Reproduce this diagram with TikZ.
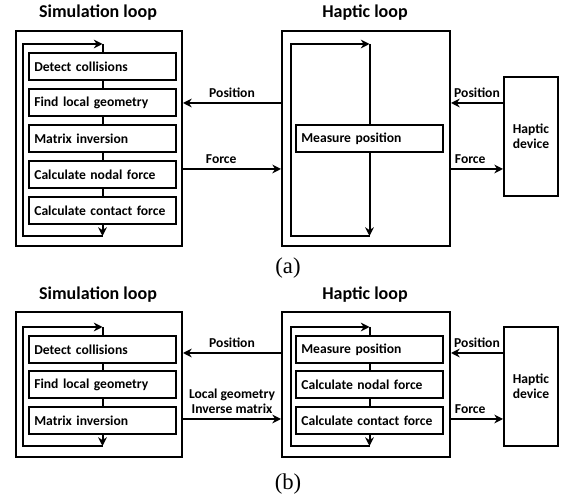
\documentclass[tikz,border=0pt]{standalone}
\usepackage{fontspec}
\setmainfont{Carlito}
\newfontfamily\capfont{Liberation Serif}
\usetikzlibrary{arrows.meta}
\begin{document}
\begin{tikzpicture}[x=0.75pt,y=-0.75pt,line width=1.5pt,
        font=\bfseries\fontsize{10.2}{11.5}\selectfont,
        >={Stealth[length=6.5pt,width=6.5pt]},
        loopbox/.style={draw,minimum width=124.5pt},
        hapbox/.style={draw,minimum width=126pt},
        stepbox/.style={draw,minimum width=110.25pt,minimum height=20.25pt,
            text width=102.25pt,inner sep=4pt,align=left},
        devbox/.style={draw,minimum width=40.5pt,minimum height=89.25pt,align=center},
        title/.style={font=\bfseries\fontsize{13.5}{15}\selectfont},
        caption/.style={font=\capfont\fontsize{17}{19}\selectfont}]
        \useasboundingbox (0,0) rectangle (564,498);

        % ---------- (a) ----------
        % Simulation loop - outer box and title
        \node[loopbox,minimum height=161.25pt] (sima) at (99,138.5) {};
        \node[title] (simatitle) at (98,13) {Simulation loop};

        % Simulation steps
        \node[stepbox] (sa1) at (102.5,66.5) {Detect collisions};
        \node[stepbox] (sa2) at (102.5,102.5) {Find local geometry};
        \node[stepbox] (sa3) at (102.5,138.5) {Matrix inversion};
        \node[stepbox] (sa4) at (102.5,174.5) {Calculate nodal force};
        \node[stepbox] (sa5) at (102.5,210.5) {Calculate contact force};

        % Loop back round the steps
        \coordinate (satop) at (102.5,44);
        \coordinate (sabot) at (102.5,236);
        \coordinate (satl) at (23,44);
        \coordinate (sabl) at (23,236);
        \draw (satop) -- (sa1);
        \draw (sa1) -- (sa2);
        \draw (sa2) -- (sa3);
        \draw (sa3) -- (sa4);
        \draw (sa4) -- (sa5);
        \draw[->] (sa5) -- (sabot);
        \draw[->] (sabot) -- (sabl) -- (satl) -- (satop);

        % Haptic loop - outer box and title
        \node[hapbox,minimum height=161.25pt] (hapa) at (366,138.5) {};
        \node[title] (hapatitle) at (365,13) {Haptic loop};
        \node[stepbox] (ha1) at (369.5,138.5) {Measure position};

        \coordinate (hatop) at (369.5,44);
        \coordinate (habot) at (369.5,236);
        \coordinate (hatl) at (291,44);
        \coordinate (habl) at (291,236);
        \draw (hatop) -- (ha1);
        \draw[->] (ha1) -- (habot);
        \draw[->] (habot) -- (habl) -- (hatl) -- (hatop);

        % Haptic device
        \node[devbox] (deva) at (531,136.5) {Haptic\\device};

        % Data between the loops
        \draw[->] (hapa.west |- 0,103) -- node[above] {Position} (sima.east |- 0,103);
        \draw[->] (sima.east |- 0,169) -- node[above,pos=0.39] {Force} (hapa.west |- 0,169);
        \draw[->] (deva.west |- 0,103) -- node[above] {Position} (hapa.east |- 0,103);
        \draw[->] (hapa.east |- 0,169) -- node[above,pos=0.37] {Force} (deva.west |- 0,169);

        \node[caption] (capa) at (288,268) {(a)};

        % ---------- (b) ----------
        % Simulation loop
        \node[loopbox,minimum height=108.75pt] (simb) at (99,384.5) {};
        \node[title] (simbtitle) at (98,295) {Simulation loop};

        \node[stepbox] (sb1) at (102.5,349.5) {Detect collisions};
        \node[stepbox] (sb2) at (102.5,385) {Find local geometry};
        \node[stepbox] (sb3) at (102.5,420.5) {Matrix inversion};

        \coordinate (sbtop) at (102.5,327);
        \coordinate (sbbot) at (102.5,446);
        \coordinate (sbtl) at (23,327);
        \coordinate (sbbl) at (23,446);
        \draw (sbtop) -- (sb1);
        \draw (sb1) -- (sb2);
        \draw (sb2) -- (sb3);
        \draw[->] (sb3) -- (sbbot);
        \draw[->] (sbbot) -- (sbbl) -- (sbtl) -- (sbtop);

        % Haptic loop
        \node[hapbox,minimum height=108.75pt] (hapb) at (366,384.5) {};
        \node[title] (hapbtitle) at (365,295) {Haptic loop};

        \node[stepbox] (hb1) at (369.5,349.5) {Measure position};
        \node[stepbox] (hb2) at (369.5,385) {Calculate nodal force};
        \node[stepbox] (hb3) at (369.5,420.5) {Calculate contact force};

        \coordinate (hbtop) at (369.5,327);
        \coordinate (hbbot) at (369.5,446);
        \coordinate (hbtl) at (291,327);
        \coordinate (hbbl) at (291,446);
        \draw (hbtop) -- (hb1);
        \draw (hb1) -- (hb2);
        \draw (hb2) -- (hb3);
        \draw[->] (hb3) -- (hbbot);
        \draw[->] (hbbot) -- (hbbl) -- (hbtl) -- (hbtop);

        % Haptic device
        \node[devbox] (devb) at (531,386.5) {Haptic\\device};

        % Data between the loops
        \draw[->] (hapb.west |- 0,353) -- node[above] {Position} (simb.east |- 0,353);
        \draw[->] (simb.east |- 0,419) -- node[above,align=center] {Local geometry\\Inverse matrix} (hapb.west |- 0,419);
        \draw[->] (devb.west |- 0,353) -- node[above] {Position} (hapb.east |- 0,353);
        \draw[->] (hapb.east |- 0,419) -- node[above,pos=0.37] {Force} (devb.west |- 0,419);

        \node[caption] (capb) at (288,484) {(b)};
\end{tikzpicture}
\end{document}
